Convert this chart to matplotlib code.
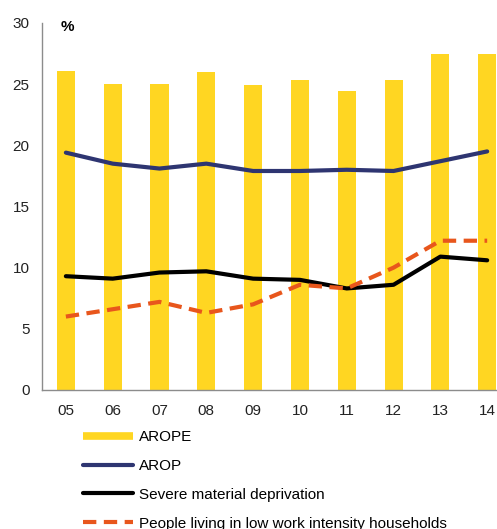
import matplotlib
matplotlib.use("Agg")
import matplotlib.pyplot as plt
from matplotlib.lines import Line2D
import numpy as np

plt.rcParams['font.family'] = ['Liberation Sans', 'DejaVu Sans']

years = ["05", "06", "07", "08", "09", "10", "11", "12", "13", "14"]
arope = [26.1, 25.0, 25.0, 26.0, 24.9, 25.3, 24.4, 25.3, 27.5, 27.5]
arop = [19.4, 18.5, 18.1, 18.5, 17.9, 17.9, 18.0, 17.9, 18.7, 19.5]
severe_md = [9.3, 9.1, 9.6, 9.7, 9.1, 9.0, 8.3, 8.6, 10.9, 10.6]
low_work = [6.0, 6.6, 7.2, 6.3, 7.0, 8.6, 8.3, 10.0, 12.2, 12.2]
yticks = [0, 5, 10, 15, 20, 25, 30]

YELLOW = "#FFD622"
NAVY = "#2E3571"
ORANGE = "#E8561C"

fig = plt.figure(figsize=(4.97, 5.29), dpi=100)
ax = fig.add_axes([0.0845, 0.2628, 0.9155, 0.6938])
x = np.arange(len(years))

ax.bar(x, arope, width=0.385, color=YELLOW, zorder=1)
ax.plot(x, arop, color=NAVY, lw=3.0, solid_capstyle='round', zorder=3)
ax.plot(x, severe_md, color="black", lw=3.0, solid_capstyle='round', zorder=3)
ax.plot(x, low_work, color=ORANGE, lw=3.0, dashes=(3.2, 1.8), zorder=4)

ax.set_xlim(-0.51, 9.21)
ax.set_ylim(0, 30)
ax.set_yticks(yticks)
ax.set_xticks(x)
ax.set_xticklabels(years)
ax.tick_params(axis='both', length=0, labelsize=11, colors='#222222')
ax.tick_params(axis='y', pad=9)
ax.tick_params(axis='x', pad=10)
for s in ['top', 'right']:
    ax.spines[s].set_visible(False)
for s in ['left', 'bottom']:
    ax.spines[s].set_color('#8c8c8c')
    ax.spines[s].set_linewidth(1.0)

ax.text(0.055, 0.99, "%", transform=ax.transAxes, fontsize=11,
        fontweight='bold', ha='center', va='center')

handles = [
    Line2D([], [], color=YELLOW, lw=5.5, solid_capstyle='butt'),
    Line2D([], [], color=NAVY, lw=3.0, solid_capstyle='round'),
    Line2D([], [], color="black", lw=3.0, solid_capstyle='round'),
    Line2D([], [], color=ORANGE, lw=3.0, dashes=(3.2, 1.8)),
]
labels = ["AROPE", "AROP", "Severe material deprivation",
          "People living in low work intensity households"]
fig.legend(handles, labels, loc='upper left', bbox_to_anchor=(0.167, 0.187),
           frameon=False, fontsize=11, handlelength=3.27, handletextpad=0.4,
           labelspacing=0.97, borderaxespad=0, borderpad=0)

fig.savefig("out.png", dpi=100)
